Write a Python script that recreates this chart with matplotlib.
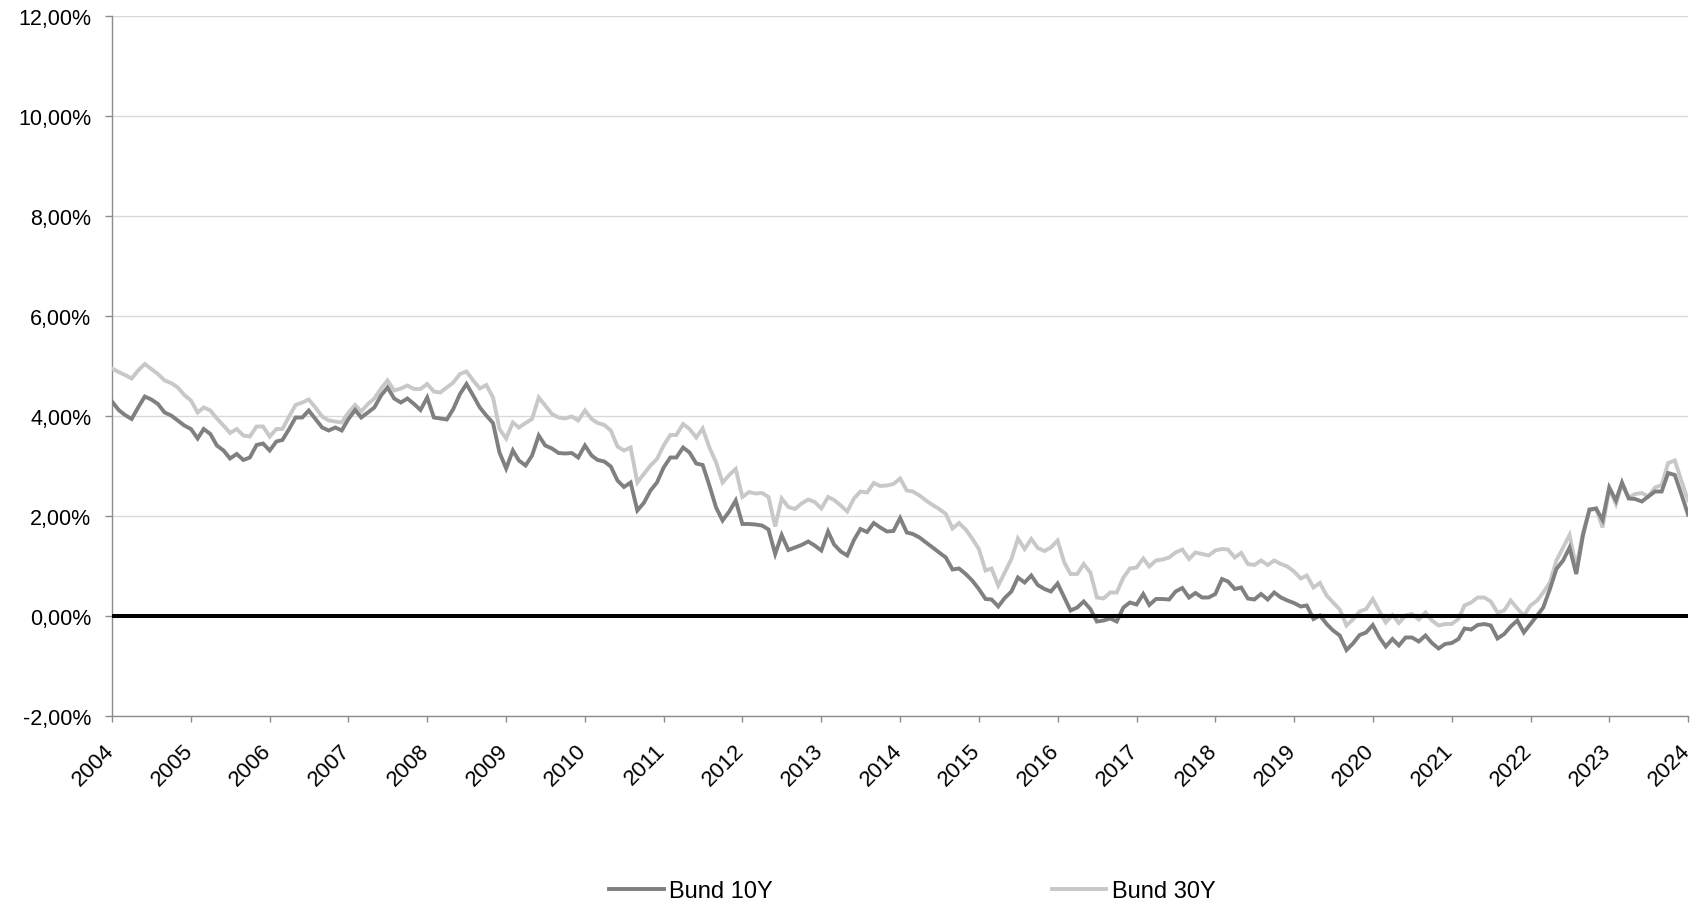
import matplotlib
matplotlib.use("Agg")
import matplotlib.pyplot as plt
import matplotlib.dates as mdates
import matplotlib.transforms as mtransforms
import pandas as pd

plt.rcParams['font.family'] = ['Liberation Sans', 'DejaVu Sans']

# Month-end German government bond yields (%), Dec 2003 .. Dec 2023
bund_10y = [
    4.29,
    4.12, 4.02, 3.94, 4.17, 4.39, 4.33, 4.24, 4.07, 4.01, 3.91, 3.81, 3.74,
    3.55, 3.74, 3.64, 3.41, 3.31, 3.15, 3.24, 3.12, 3.17, 3.42, 3.45, 3.31,
    3.49, 3.52, 3.74, 3.97, 3.97, 4.11, 3.94, 3.77, 3.71, 3.77, 3.71, 3.94,
    4.12, 3.97, 4.07, 4.17, 4.41, 4.57, 4.35, 4.27, 4.35, 4.24, 4.12, 4.37,
    3.97, 3.95, 3.93, 4.14, 4.44, 4.64, 4.41, 4.17, 4.01, 3.86, 3.27, 2.95,
    3.31, 3.11, 3.01, 3.21, 3.61, 3.41, 3.35, 3.26, 3.25, 3.26, 3.17, 3.41,
    3.21, 3.12, 3.09, 2.99, 2.71, 2.58, 2.67, 2.11, 2.26, 2.51, 2.67, 2.97,
    3.17, 3.17, 3.37, 3.27, 3.05, 3.02, 2.61, 2.17, 1.91, 2.09, 2.31, 1.84,
    1.84, 1.83, 1.81, 1.73, 1.24, 1.62, 1.32, 1.37, 1.42, 1.49, 1.41, 1.31,
    1.69, 1.43, 1.29, 1.21, 1.52, 1.74, 1.68, 1.86, 1.77, 1.69, 1.70, 1.96,
    1.67, 1.64, 1.57, 1.47, 1.37, 1.27, 1.17, 0.93, 0.95, 0.84, 0.71, 0.54,
    0.34, 0.33, 0.19, 0.36, 0.49, 0.77, 0.67, 0.81, 0.62, 0.54, 0.49, 0.65,
    0.37, 0.11, 0.17, 0.29, 0.14, -0.11, -0.09, -0.05, -0.11, 0.17, 0.27, 0.23,
    0.44, 0.22, 0.34, 0.34, 0.33, 0.49, 0.56, 0.37, 0.46, 0.37, 0.37, 0.44,
    0.74, 0.69, 0.54, 0.57, 0.35, 0.33, 0.44, 0.33, 0.47, 0.37, 0.31, 0.26,
    0.19, 0.21, -0.06, 0.01, -0.16, -0.29, -0.39, -0.68, -0.55, -0.38, -0.33, -0.18,
    -0.43, -0.61, -0.46, -0.59, -0.43, -0.43, -0.51, -0.39, -0.54, -0.65, -0.56, -0.54,
    -0.46, -0.25, -0.27, -0.18, -0.16, -0.19, -0.45, -0.36, -0.21, -0.09, -0.33, -0.16,
    0.01, 0.17, 0.54, 0.94, 1.11, 1.37, 0.84, 1.61, 2.13, 2.15, 1.92, 2.57,
    2.31, 2.67, 2.35, 2.34, 2.29, 2.39, 2.49, 2.49, 2.86, 2.82, 2.44, 2.03,
]

bund_30y = [
    4.95,
    4.88, 4.82, 4.75, 4.91, 5.04, 4.94, 4.84, 4.71, 4.66, 4.57, 4.42, 4.31,
    4.07, 4.17, 4.11, 3.95, 3.81, 3.66, 3.74, 3.61, 3.59, 3.79, 3.79, 3.59,
    3.74, 3.74, 3.99, 4.22, 4.27, 4.33, 4.17, 3.99, 3.91, 3.89, 3.87, 4.07,
    4.22, 4.09, 4.24, 4.35, 4.55, 4.71, 4.51, 4.55, 4.61, 4.54, 4.54, 4.64,
    4.49, 4.47, 4.57, 4.67, 4.84, 4.89, 4.71, 4.55, 4.62, 4.37, 3.74, 3.55,
    3.87, 3.77, 3.86, 3.94, 4.37, 4.21, 4.04, 3.97, 3.95, 3.99, 3.91, 4.11,
    3.94, 3.86, 3.82, 3.71, 3.39, 3.31, 3.37, 2.67, 2.84, 3.01, 3.14, 3.41,
    3.62, 3.62, 3.84, 3.74, 3.57, 3.75, 3.37, 3.07, 2.67, 2.82, 2.94, 2.38,
    2.48, 2.45, 2.46, 2.38, 1.79, 2.35, 2.18, 2.14, 2.25, 2.33, 2.28, 2.15,
    2.38, 2.32, 2.21, 2.09, 2.35, 2.49, 2.47, 2.66, 2.60, 2.61, 2.64, 2.75,
    2.51, 2.49, 2.41, 2.31, 2.22, 2.14, 2.04, 1.75, 1.86, 1.73, 1.55, 1.34,
    0.91, 0.95, 0.61, 0.87, 1.14, 1.55, 1.34, 1.54, 1.36, 1.30, 1.37, 1.51,
    1.07, 0.84, 0.84, 1.04, 0.87, 0.37, 0.35, 0.47, 0.47, 0.77, 0.95, 0.97,
    1.15, 0.99, 1.11, 1.13, 1.17, 1.27, 1.33, 1.14, 1.27, 1.24, 1.21, 1.31,
    1.34, 1.33, 1.17, 1.26, 1.04, 1.02, 1.11, 1.02, 1.11, 1.04, 0.99, 0.89,
    0.75, 0.81, 0.57, 0.66, 0.41, 0.27, 0.13, -0.19, -0.07, 0.09, 0.14, 0.34,
    0.09, -0.13, 0.02, -0.14, 0.01, 0.04, -0.07, 0.07, -0.09, -0.19, -0.16, -0.16,
    -0.06, 0.21, 0.27, 0.37, 0.37, 0.29, 0.07, 0.11, 0.31, 0.15, 0.01, 0.21,
    0.31, 0.47, 0.67, 1.11, 1.37, 1.62, 0.97, 1.67, 2.11, 2.15, 1.77, 2.54,
    2.24, 2.64, 2.37, 2.44, 2.46, 2.39, 2.57, 2.62, 3.06, 3.11, 2.71, 2.31,
]

series_names = ["Bund 10Y", "Bund 30Y"]
dates = pd.date_range("2004-01-01", periods=len(bund_10y), freq="MS")
year_ticks = pd.date_range("2004-01-01", "2024-01-01", freq="YS")
y_ticks = [-2, 0, 2, 4, 6, 8, 10, 12]

W, H = 1693, 904
fig = plt.figure(figsize=(W / 100, H / 100), dpi=100)
ax = fig.add_axes([112 / W, 1 - 717 / H, (1688 - 112) / W, 700 / H])

ax.plot(dates, bund_30y, color="#c8c8c8", lw=2.8, solid_joinstyle="miter",
        label=series_names[1], zorder=3)
ax.plot(dates, bund_10y, color="#808080", lw=2.8, solid_joinstyle="miter",
        label=series_names[0], zorder=4)
ax.axhline(0, color="black", lw=2.9, zorder=5)

ax.set_xlim(year_ticks[0], year_ticks[-1])
ax.set_ylim(-2, 12)
ax.set_yticks(y_ticks)
ax.set_yticklabels([f"{v:.2f}".replace(".", ",") + "%" for v in y_ticks])
ax.set_xticks(year_ticks)
ax.xaxis.set_major_formatter(mdates.DateFormatter("%Y"))

ax.yaxis.grid(True, color="#d9d9d9", lw=1.0)
ax.set_axisbelow(True)

for s in ("top", "right"):
    ax.spines[s].set_visible(False)
for s in ("left", "bottom"):
    ax.spines[s].set_color("#8c8c8c")
    ax.spines[s].set_linewidth(1.0)

ax.tick_params(axis="y", direction="out", length=5, width=1, color="#8c8c8c",
               pad=10, labelsize=15.5, labelcolor="black")
ax.tick_params(axis="x", direction="out", length=4, width=1, color="#8c8c8c",
               pad=13, labelsize=16, labelcolor="black")

shift = mtransforms.ScaledTranslation(6 / 100, 0, fig.dpi_scale_trans)
for lab in ax.get_xticklabels():
    lab.set_rotation(45)
    lab.set_ha("right")
    lab.set_va("top")
    lab.set_transform(lab.get_transform() + shift)

handles, labels = ax.get_legend_handles_labels()
order = [1, 0]
fig.legend([handles[i] for i in order], [labels[i] for i in order],
           loc="center", bbox_to_anchor=(0.539, 1 - 892 / H), ncol=2,
           frameon=False, fontsize=17, handlelength=2.3, handletextpad=0.25,
           columnspacing=11.8, borderpad=0)

fig.savefig("out.png", dpi=100, facecolor="white")
